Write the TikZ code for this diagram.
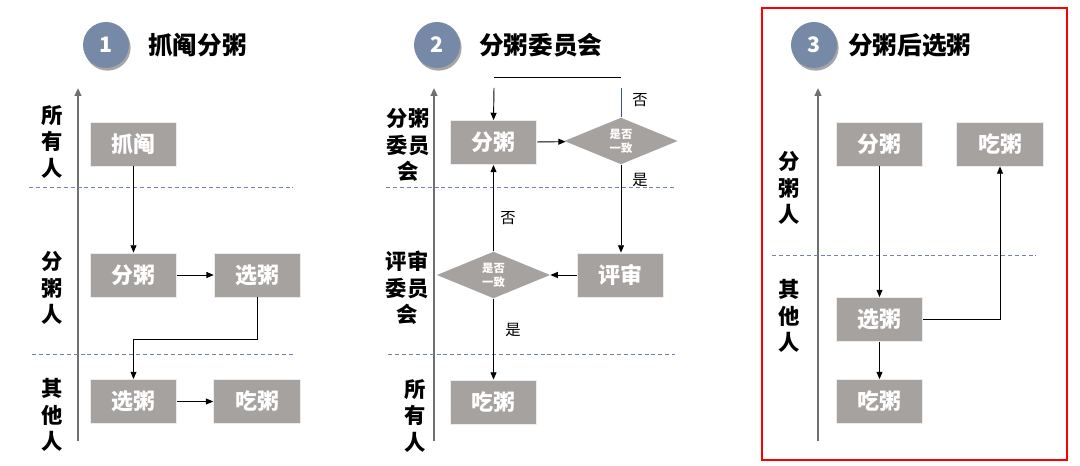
\documentclass[tikz,border=0pt]{standalone}
\usepackage{fontspec}
\newfontfamily\cjk{Noto Sans CJK SC}
\usetikzlibrary{arrows.meta,shapes.geometric,shadows}
\definecolor{boxgray}{RGB}{166,162,160}
\definecolor{numblue}{RGB}{118,137,166}
\definecolor{lanedash}{RGB}{115,130,185}
\definecolor{axisgray}{RGB}{112,112,112}
\definecolor{loopblue}{RGB}{60,80,160}
\begin{document}
\begin{tikzpicture}[x=0.75pt, y=-0.75pt, >={Triangle[length=5.5pt,width=4.5pt]},
  box/.style={fill=boxgray, draw=white!80!boxgray, line width=0.6pt, minimum width=65pt, minimum height=33pt, inner sep=0pt, text=white, font=\cjk\bfseries\fontsize{16.5}{16.5}\selectfont},
  check/.style={diamond, fill=boxgray, minimum width=85pt, minimum height=35pt, inner sep=0pt, aspect=2.4, text=white, align=center, font=\cjk\bfseries\fontsize{8.5}{10.5}\selectfont},
  numcirc/.style={circle, fill=numblue, minimum size=34.5pt, inner sep=0pt, text=white, font=\cjk\bfseries\fontsize{16}{16}\selectfont, drop shadow={shadow xshift=1.2pt, shadow yshift=-2pt, fill=black, opacity=0.35}},
  heading/.style={anchor=west, inner sep=0pt, font=\cjk\bfseries\fontsize{18.5}{18.5}\selectfont},
  lane/.style={align=center, inner sep=0pt, font=\cjk\bfseries\fontsize{16}{20}\selectfont},
  answer/.style={inner sep=0pt, font=\cjk\fontsize{11.5}{12}\selectfont},
  axis/.style={axisgray, line width=1.4pt, -{Triangle[length=6pt,width=5pt]}},
  lanesep/.style={lanedash, line width=0.7pt, dash pattern=on 3pt off 2.2pt},
  flow/.style={black, line width=0.7pt, ->}]
\useasboundingbox (0,0) rectangle (1080,466);

\node[numcirc] (num1) at (106,45) {1};
\node[heading] (title1) at (148,45) {抓阄分粥};
\coordinate (ax1b) at (78,441);
\coordinate (ax1t) at (78,88);
\draw[axis] (ax1b) -- (ax1t);
\draw[lanesep] (29,187) -- (293,187);
\draw[lanesep] (32,354) -- (295,354);
\node[lane] (lane1a) at (52,142) {所\\有\\人};
\node[lane] (lane1b) at (52,288) {分\\粥\\人};
\node[lane] (lane1c) at (52,415) {其\\他\\人};
\node[box] (p1draw) at (133.5,144) {抓阄};
\node[box] (p1fen) at (133.5,275) {分粥};
\node[box] (p1xuan) at (257.5,275) {选粥};
\node[box] (p1xuan2) at (133.5,401.5) {选粥};
\node[box] (p1chi) at (257,401.5) {吃粥};
\draw[flow] (p1draw) -- (p1fen);
\draw[flow] (p1fen) -- (p1xuan);
\draw[flow] (p1xuan.south) -- ++(0,42) -| (p1xuan2.north);
\draw[flow] (p1xuan2) -- (p1chi);

\node[numcirc] (num2) at (437,45) {2};
\node[heading] (title2) at (479,45) {分粥委员会};
\coordinate (ax2b) at (434,441);
\coordinate (ax2t) at (434,88);
\draw[axis] (ax2b) -- (ax2t);
\draw[lanesep] (386,187) -- (675,187);
\draw[lanesep] (388,354) -- (675,354);
\node[lane] (lane2a) at (408,145) {分粥\\委员\\会};
\node[lane] (lane2b) at (407,288) {评审\\委员\\会};
\node[lane] (lane2c) at (415,416) {所\\有\\人};
\node[box] (p2fen) at (493.5,142.5) {分粥};
\node[check] (p2check1) at (621,141) {是否\\一致};
\node[box] (p2review) at (620.5,275) {评审};
\node[check] (p2check2) at (493.5,275) {是否\\一致};
\node[box] (p2chi) at (493.5,402) {吃粥};
\coordinate (p2topl) at (494,77);
\coordinate (p2topr) at (621,77);
\coordinate (p2loopl) at (494,88);
\coordinate (p2loopr) at (621,88);
\draw[black, line width=0.7pt] (p2topl) -- (p2topr);
\draw[flow] (p2loopl) -- (p2fen.north);
\draw[loopblue, line width=0.7pt] (p2check1.north) -- (p2loopr);
\node[answer] (no1) at (640,100) {否};
\draw[flow] (p2fen) -- (p2check1);
\draw[flow] (p2check1.south) -- (p2check1.south |- p2review.north);
\node[answer] (yes1) at (640,180) {是};
\draw[flow] (p2review) -- (p2check2);
\draw[flow] (p2check2.north) -- (p2fen.south);
\node[answer] (no2) at (508,218) {否};
\draw[flow] (p2check2.south) -- (p2chi.north);
\node[answer] (yes2) at (513,330) {是};

\draw[red, line width=1.3pt] (762,8) rectangle (1067,460);
\node[numcirc] (num3) at (814,45) {3};
\node[heading] (title3) at (848,45) {分粥后选粥};
\coordinate (ax3b) at (818,441);
\coordinate (ax3t) at (818,88);
\draw[axis] (ax3b) -- (ax3t);
\draw[lanesep] (772,255) -- (1036,255);
\node[lane] (lane3a) at (789,188) {分\\粥\\人};
\node[lane] (lane3b) at (789,316) {其\\他\\人};
\node[box] (p3fen) at (879.5,144) {分粥};
\node[box] (p3chi) at (1000,144) {吃粥};
\node[box] (p3xuan) at (879.5,319.5) {选粥};
\node[box] (p3chi2) at (879.5,401.5) {吃粥};
\draw[flow] (p3fen) -- (p3xuan);
\draw[flow] (p3xuan) -- (p3chi2);
\draw[flow] (p3xuan.east) -| (p3chi.south);
\end{tikzpicture}
\end{document}
